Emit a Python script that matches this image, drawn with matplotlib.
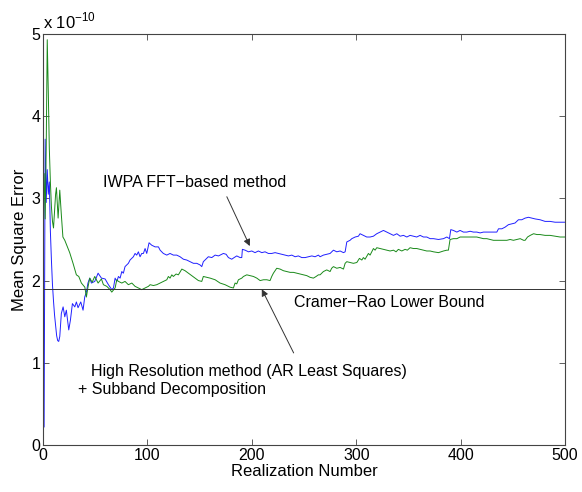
import numpy as np
import matplotlib
matplotlib.use("Agg")
import matplotlib.pyplot as plt

plt.rcParams['font.family'] = ['Liberation Sans', 'DejaVu Sans']
plt.rcParams['mathtext.fontset'] = 'custom'
plt.rcParams['mathtext.rm'] = 'Liberation Sans'

# MSE in units of 1e-10
# IWPA FFT-based method (blue)
x_iwpa = [1, 2, 3, 4, 5, 6, 7, 8, 9, 10, 11, 12, 13, 14, 15, 16, 17.5, 19.2, 20.8, 22.3,
          24.6, 26.2, 28.1, 30.4, 31.9, 33.5, 36.1, 38.3, 39.9, 41.5, 43, 44.7, 46.3, 49.5,
          52.7, 55.9, 59.4, 62.6, 65.8, 67.4, 69, 70.6, 72.2, 73.8, 75.4, 76.9, 78.5, 81.7,
          83.3, 86.5, 88.1, 89.7, 91.3, 92.9, 94.5, 96.1, 97.7, 99.3, 101.5, 104.1, 107.3,
          110.5, 112.1, 115.2, 118.5, 121.6, 124.8, 128, 131.2, 134.4, 137.6, 140.8, 144,
          147.2, 150.4, 152, 153.5, 156.8, 158.3, 161.6, 164.8, 168, 172.7, 175.3, 177.5,
          180.7, 183, 185.5, 188.7, 190.3, 190.9, 193.5, 196.7, 199.9, 203, 206.2, 209.5,
          212.6, 215.8, 219, 222.2, 225.4, 228.6, 231.8, 235, 238.2, 241.4, 244.5, 247.8,
          251, 254.1, 257.4, 260.5, 263.7, 265.3, 268.5, 271.7, 274.9, 278.1, 281.3, 284.5,
          287.7, 289.3, 290.9, 294, 295.7, 298.9, 302, 303.6, 306.8, 310, 313.2, 316.4,
          319.6, 322.8, 326, 329.2, 332.4, 335.6, 338.8, 342, 345.2, 348.4, 351.5, 354.7,
          357.9, 361.1, 364.3, 367.5, 370.7, 373.9, 378.7, 383.5, 386.7, 389.2, 390.5, 393,
          396.3, 399.4, 402.6, 405.8, 409, 412.2, 415.4, 418.6, 421.8, 425, 428.2, 431.3,
          434.6, 436.2, 439.4, 442.5, 445.7, 449, 452, 455.3, 458.5, 461.7, 464.9, 468.1,
          471.3, 476, 480.8, 485.6, 490.4, 495.2, 500]
y_iwpa = [0.22, 3.72, 2.95, 3.35, 3.05, 3.2, 2.6, 2.25, 1.95, 1.75, 1.58, 1.45, 1.33, 1.27,
          1.26, 1.32, 1.6, 1.68, 1.56, 1.64, 1.40, 1.52, 1.72, 1.68, 1.74, 1.67, 1.74, 1.64,
          1.80, 1.86, 1.97, 2.03, 1.97, 1.99, 2.09, 2.03, 2.02, 1.95, 1.89, 1.91, 2.03, 1.99,
          2.05, 2.03, 2.11, 2.09, 2.17, 2.21, 2.25, 2.29, 2.33, 2.31, 2.35, 2.29, 2.33, 2.33,
          2.39, 2.33, 2.46, 2.43, 2.41, 2.41, 2.37, 2.33, 2.31, 2.33, 2.31, 2.31, 2.29, 2.26,
          2.25, 2.23, 2.21, 2.21, 2.19, 2.17, 2.23, 2.27, 2.29, 2.28, 2.31, 2.30, 2.33, 2.32,
          2.28, 2.26, 2.28, 2.30, 2.28, 2.28, 2.38, 2.37, 2.35, 2.36, 2.34, 2.36, 2.34, 2.35,
          2.33, 2.33, 2.34, 2.33, 2.32, 2.31, 2.30, 2.31, 2.29, 2.30, 2.28, 2.28, 2.29, 2.30,
          2.29, 2.31, 2.29, 2.31, 2.32, 2.33, 2.37, 2.35, 2.36, 2.34, 2.35, 2.47, 2.49, 2.51,
          2.53, 2.54, 2.57, 2.55, 2.53, 2.53, 2.54, 2.57, 2.59, 2.61, 2.59, 2.57, 2.55, 2.57,
          2.54, 2.55, 2.53, 2.55, 2.54, 2.53, 2.55, 2.53, 2.53, 2.51, 2.51, 2.50, 2.51, 2.53,
          2.51, 2.62, 2.61, 2.59, 2.61, 2.59, 2.59, 2.60, 2.59, 2.59, 2.58, 2.59, 2.59, 2.59,
          2.59, 2.59, 2.63, 2.63, 2.65, 2.68, 2.69, 2.70, 2.74, 2.74, 2.76, 2.77, 2.76, 2.75,
          2.74, 2.72, 2.72, 2.71, 2.71, 2.71]

# High resolution method (AR least squares) + subband decomposition (green)
x_hr = [1, 2, 3, 4, 5, 6, 7, 8, 9, 10, 11, 12, 12.8, 14.4, 16, 17.5, 19, 20.8, 23, 25.5,
        28.7, 31.9, 34.2, 36.7, 40, 41.5, 43, 44.7, 47, 49.5, 52.7, 55.9, 57.8, 61, 64.2,
        65.8, 69, 70.6, 72.2, 75.4, 78.5, 81.7, 85, 88.1, 91.3, 94.5, 97.7, 100.9, 102.5,
        105.7, 108.9, 112.1, 115.2, 118.5, 120, 121.6, 123.3, 124.8, 127.4, 129.6, 132.9,
        136, 139.2, 142.4, 145.6, 148.8, 152, 153.5, 156.8, 160, 164.8, 169.5, 174.3, 179.1,
        182.3, 183.9, 185.5, 187.1, 190.3, 191.9, 195.1, 198.3, 201.5, 204.7, 207.9, 211.1,
        214.3, 217.4, 219, 220.6, 223.8, 227, 230.2, 233.4, 236.6, 239.8, 243, 246.2, 249.4,
        252.6, 255.7, 258.9, 261.5, 263.7, 265.3, 268.5, 271.7, 274.9, 276.4, 278.1, 281.3,
        284.5, 287.7, 289.3, 290.9, 294, 297.2, 300.5, 303, 305.3, 306.8, 308.4, 311.6,
        313.2, 316.4, 318, 319.6, 322.8, 326, 329.2, 332.4, 335.6, 338.1, 340.3, 343.6,
        346.7, 348.9, 351.5, 354.7, 357.9, 361.1, 364.3, 367.5, 370.7, 373.9, 378.7, 383.5,
        386.7, 388.2, 389.8, 393, 396.3, 399.4, 402.6, 405.8, 409, 412.2, 415.4, 418.6,
        421.8, 425, 428.2, 431.3, 434.6, 437.8, 441, 444.2, 447.3, 450.5, 453.8, 457, 460.2,
        461.7, 464, 466.6, 469.8, 473, 476, 480.8, 485.6, 490.4, 495.2, 500]
y_hr = [3.3, 2.75, 3.6, 4.93, 4.3, 3.6, 3.2, 2.9, 2.72, 2.64, 2.85, 3.05, 3.13, 2.76, 3.10,
        2.8, 2.53, 2.49, 2.42, 2.34, 2.21, 2.07, 2.05, 1.97, 1.92, 1.8, 1.92, 2.03, 1.98,
        2.05, 1.97, 2.02, 1.95, 1.93, 1.89, 1.86, 1.91, 2.01, 1.99, 1.97, 1.99, 1.95, 1.97,
        1.93, 1.91, 1.89, 1.91, 1.93, 1.95, 1.94, 1.95, 1.97, 1.99, 2.01, 2.05, 2.03, 2.07,
        2.05, 2.08, 2.07, 2.14, 2.12, 2.09, 2.06, 2.03, 2.0, 1.99, 2.05, 2.04, 2.03, 2.01,
        1.97, 1.95, 1.92, 1.91, 1.97, 1.96, 2.01, 2.03, 2.05, 2.07, 2.06, 2.05, 2.03, 2.0,
        2.01, 2.01, 2.0, 2.05, 2.09, 2.15, 2.14, 2.12, 2.11, 2.10, 2.10, 2.09, 2.08, 2.07,
        2.06, 2.04, 2.03, 2.05, 2.07, 2.07, 2.11, 2.13, 2.11, 2.15, 2.17, 2.15, 2.16, 2.14,
        2.21, 2.23, 2.22, 2.21, 2.22, 2.27, 2.25, 2.28, 2.26, 2.33, 2.31, 2.39, 2.37, 2.40,
        2.39, 2.38, 2.37, 2.36, 2.37, 2.35, 2.38, 2.36, 2.38, 2.37, 2.40, 2.39, 2.39, 2.38,
        2.37, 2.36, 2.36, 2.35, 2.34, 2.36, 2.37, 2.37, 2.50, 2.51, 2.51, 2.53, 2.53, 2.53,
        2.53, 2.53, 2.53, 2.52, 2.51, 2.51, 2.50, 2.49, 2.49, 2.49, 2.49, 2.49, 2.50, 2.49,
        2.50, 2.51, 2.49, 2.49, 2.53, 2.55, 2.57, 2.56, 2.56, 2.55, 2.55, 2.54, 2.53, 2.53]

crlb = 1.9

fig = plt.figure(figsize=(5.82, 4.92), dpi=100)
ax = fig.add_axes([0.074, 0.0955, 0.897, 0.8355])

ax.plot(x_iwpa, y_iwpa, color='#2020ff', lw=0.7)
ax.plot(x_hr, y_hr, color='#1a8a1a', lw=0.7)
ax.axhline(crlb, color='#333333', lw=0.7)

ax.set_xlim(0, 500)
ax.set_ylim(0, 5)
ax.set_xticks([0, 100, 200, 300, 400, 500])
ax.set_yticks([0, 1, 2, 3, 4, 5])
ax.tick_params(direction='in', top=True, right=True, labelsize=11.5, length=4,
               width=0.6, color='#444444', pad=2)
for s in ax.spines.values():
    s.set_color('#444444')
    s.set_linewidth(0.8)

ax.set_xlabel('Realization Number', fontsize=12, labelpad=1)
ax.set_ylabel('Mean Square Error', fontsize=12, labelpad=3)
ax.text(0.0, 1.005, 'x 10$^{\\mathregular{-10}}$', transform=ax.transAxes,
        fontsize=12, ha='left', va='bottom')

ax.annotate('IWPA FFT\u2212based method', xy=(198, 2.42), xytext=(57.5, 3.19),
            fontsize=11.5, va='center', ha='left')
ax.annotate('', xy=(198, 2.42), xytext=(176, 3.02),
            arrowprops=dict(arrowstyle='-|>', color='#333333', lw=0.7,
                            mutation_scale=10, shrinkA=0, shrinkB=0))
ax.text(240, 1.73, 'Cramer\u2212Rao Lower Bound', fontsize=11.5, va='center', ha='left')
ax.annotate('', xy=(209.5, 1.895), xytext=(240, 1.12),
            arrowprops=dict(arrowstyle='-|>', color='#333333', lw=0.7,
                            mutation_scale=10, shrinkA=0, shrinkB=0))
ax.text(45.7, 0.89, 'High Resolution method (AR Least Squares)', fontsize=11.5,
        va='center', ha='left')
ax.text(33, 0.68, '+ Subband Decomposition', fontsize=11.5, va='center', ha='left')

fig.savefig('out.png', dpi=100)
